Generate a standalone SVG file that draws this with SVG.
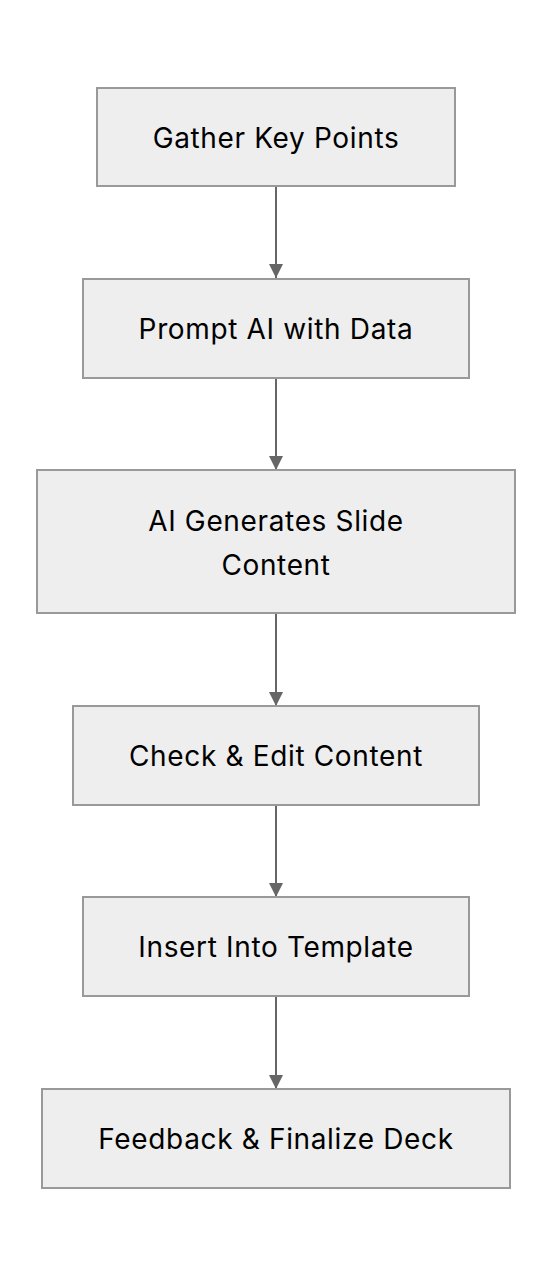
<svg xmlns="http://www.w3.org/2000/svg" width="552" height="1276" viewBox="0 0 552 1276">
<style>
.node rect{fill:#eeeeee;stroke:#999999;stroke-width:2}
.node text{font-family:Inter,"Noto Sans",sans-serif;font-size:28px;letter-spacing:0.65px;fill:#000;text-anchor:middle;dominant-baseline:central}
.edge{stroke:#666666;stroke-width:2;fill:none}
</style>
<defs>
<marker id="arrow" viewBox="0 0 14 14" refX="14" refY="7" markerWidth="14" markerHeight="14" markerUnits="userSpaceOnUse" orient="auto">
<path d="M0,0 L14,7 L0,14 z" fill="#666666"/>
</marker>
</defs>
<rect width="552" height="1276" fill="#ffffff"/>
<g id="connectors">
<line class="edge" x1="276" y1="187" x2="276" y2="278" marker-end="url(#arrow)"/>
<line class="edge" x1="276" y1="378" x2="276" y2="470" marker-end="url(#arrow)"/>
<line class="edge" x1="276" y1="614" x2="276" y2="706" marker-end="url(#arrow)"/>
<line class="edge" x1="276" y1="805" x2="276" y2="897" marker-end="url(#arrow)"/>
<line class="edge" x1="276" y1="996" x2="276" y2="1089" marker-end="url(#arrow)"/>
</g>
<g id="n1" class="node"><rect x="97" y="88" width="358" height="98"/><text x="276" y="138">Gather Key Points</text></g>
<g id="n2" class="node"><rect x="83" y="279" width="386" height="99"/><text x="276" y="329">Prompt AI with Data</text></g>
<g id="n3" class="node"><rect x="37" y="470" width="478" height="143"/><text x="276" y="521">AI Generates Slide</text><text x="276" y="565">Content</text></g>
<g id="n4" class="node"><rect x="73" y="706" width="406" height="99"/><text x="276" y="756">Check &amp; Edit Content</text></g>
<g id="n5" class="node"><rect x="83" y="897" width="386" height="99"/><text x="276" y="947">Insert Into Template</text></g>
<g id="n6" class="node"><rect x="42" y="1089" width="468" height="99"/><text x="276" y="1139">Feedback &amp; Finalize Deck</text></g>
</svg>
